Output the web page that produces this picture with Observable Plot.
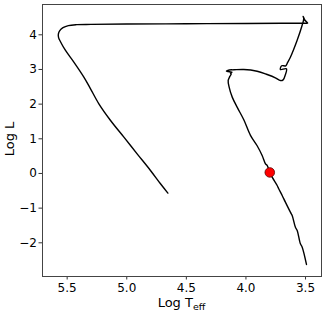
<!DOCTYPE html>
<html><head><meta charset="utf-8">
<script src="https://cdn.jsdelivr.net/npm/d3@7"></script>
<script src="https://cdn.jsdelivr.net/npm/@observablehq/plot@0.6"></script>
<style>body{margin:0;background:#fff}</style>
</head><body><div id="chart"></div>
<script>
const logTeff = [3.492,3.528,3.543,3.570,3.585,3.612,3.627,3.669,3.696,3.725,3.738,3.780,3.800,3.822,3.836,3.864,3.906,3.962,4.018,4.074,4.115,4.141,4.149,4.135,4.124,4.130,4.116,4.164,4.140,4.102,4.018,3.906,3.822,3.753,3.711,3.688,3.669,3.660,3.711,3.700,3.666,3.649,3.627,3.571,3.529,3.515,3.520,3.505,3.482,3.500,3.700,4.000,4.500,5.000,5.300,5.420,5.490,5.535,5.562,5.574,5.572,5.556,5.514,5.444,5.360,5.304,5.234,5.136,5.024,4.913,4.801,4.717,4.655];
const logL    = [-2.625,-2.125,-2.03,-1.644,-1.55,-1.212,-1.117,-0.828,-0.635,-0.44,-0.346,-0.107,0.03,0.231,0.279,0.519,0.80,1.10,1.55,1.913,2.202,2.49,2.683,2.80,2.87,2.90,2.921,2.95,2.985,2.99,3.0,2.95,2.855,2.76,2.68,2.70,2.85,3.019,3.0,3.106,3.106,3.21,3.354,3.836,4.268,4.46,4.53,4.42,4.34,4.335,4.333,4.327,4.318,4.31,4.30,4.292,4.265,4.205,4.12,4.02,3.92,3.80,3.548,3.212,2.779,2.442,2.01,1.529,1.048,0.567,0.087,-0.298,-0.567];
const starT = [3.80];
const starL = [0.03];
const xTicks = [5.5,5.0,4.5,4.0,3.5];
const yTicks = [-2,-1,0,1,2,3,4];

const track = logTeff.map((t,i)=>({t, L: logL[i]}));
const star = starT.map((t,i)=>({t, L: starL[i]}));
const fmt = d => (d<0 ? "\u2212" : "") + Math.abs(d);

const plot = Plot.plot({
  width: 326, height: 313,
  marginLeft: 42, marginRight: 5, marginTop: 4, marginBottom: 37,
  style: {fontFamily: "DejaVu Sans, sans-serif", fontSize: "12px", color: "#000", background: "#fff"},
  x: {domain: [5.707, 3.366]},
  y: {domain: [-2.972, 4.874]},
  marks: [
    Plot.axisX(xTicks, {tickSize: 3.5, tickPadding: 3, fontSize: 12, label: null, tickFormat: d => d.toFixed(1), stroke: "#333"}),
    Plot.axisY(yTicks, {tickSize: 3.5, tickPadding: 2, fontSize: 12, label: null, tickFormat: fmt, stroke: "#333"}),
    Plot.line(track, {x: "t", y: "L", stroke: "#000", strokeWidth: 1.4, curve: "catmull-rom"}),
    Plot.dot(star, {x: "t", y: "L", r: 4.8, fill: "#ff0000", stroke: "#5a0000", strokeWidth: 0.8}),
    Plot.frame({stroke: "#444", strokeWidth: 1})
  ]
});
const svg = d3.select(plot);
svg.append("text").attr("x", 181.5).attr("y", 307).attr("text-anchor","middle")
  .attr("font-size", 13).attr("font-family","DejaVu Sans, sans-serif").attr("fill","#000")
  .call(t => { t.append("tspan").text("Log T"); t.append("tspan").attr("font-size", 9.5).attr("dy", 3).text("eff"); });
svg.append("text").attr("transform","translate(14,139) rotate(-90)").attr("text-anchor","middle")
  .attr("font-size", 13).attr("font-family","DejaVu Sans, sans-serif").attr("fill","#000").text("Log L");
document.getElementById("chart").appendChild(plot);
</script></body></html>
